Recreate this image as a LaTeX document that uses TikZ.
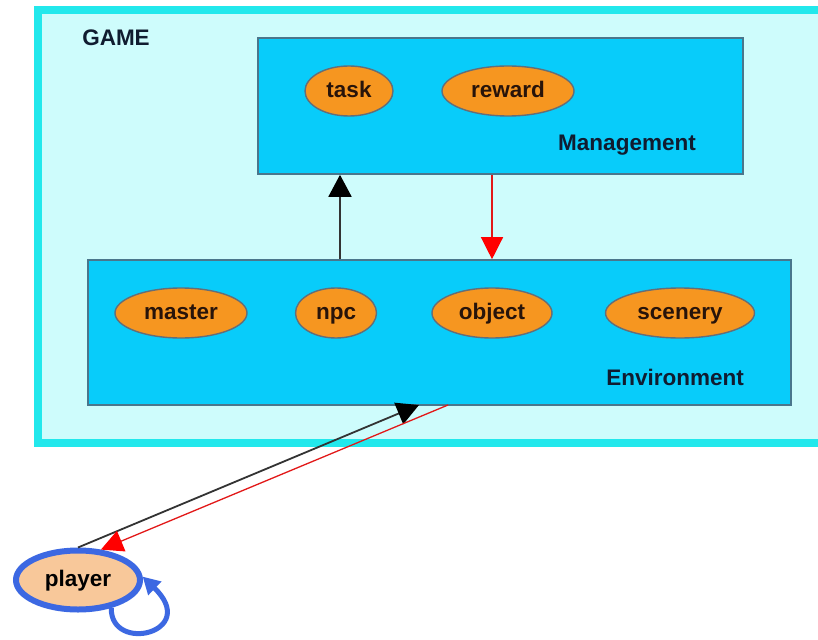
\documentclass[tikz,border=0pt]{standalone}
\usepackage{fontspec}
\setmainfont{Liberation Sans}
\usetikzlibrary{arrows.meta,shapes.geometric,calc}

\definecolor{gamefill}{RGB}{206,252,252}
\definecolor{gameedge}{RGB}{34,232,236}
\definecolor{boxfill}{RGB}{8,204,250}
\definecolor{boxedge}{RGB}{74,118,140}
\definecolor{itemfill}{RGB}{246,150,32}
\definecolor{itemedge}{RGB}{100,110,120}
\definecolor{playerfill}{RGB}{248,200,154}
\definecolor{playeredge}{RGB}{60,104,226}
\definecolor{labelink}{RGB}{16,28,48}
\definecolor{itemink}{RGB}{40,20,10}
\definecolor{flowred}{RGB}{226,24,24}

\tikzset{
  txt/.style={font=\fontsize{22.5}{22.5}\selectfont\bfseries, text=labelink},
  cluster/.style={rectangle, draw=boxedge, line width=1.6pt, fill=boxfill, inner sep=0pt},
  item/.style={ellipse, draw=itemedge, line width=1.4pt, fill=itemfill, inner sep=0pt,
               minimum height=50pt, txt, text=itemink,
               text height=16pt, text depth=3pt},
  upflow/.style={draw=black!80, line width=1.8pt,
                 -{Triangle[length=22pt,width=23pt,color=black,fill=black]}},
  downflow/.style={draw=flowred, line width=1.3pt,
                   -{Triangle[length=22pt,width=22pt,color=red,fill=red]}},
  selfloop/.style={draw=playeredge, line width=5pt,
                   -{Triangle[length=17pt,width=18pt]}},
}

\begin{document}
\begin{tikzpicture}[x=1pt,y=-1pt]
  \useasboundingbox (0,0) rectangle (818,639);
  \clip (0,0) rectangle (818,639);
  \fill[white] (0,0) rectangle (818,639);

  % outer GAME area, running off the right edge
  \draw[gameedge, fill=gamefill, line width=8pt] (38,10) rectangle (840,443);
  \node[txt, anchor=center] (game) at (116,38) {GAME};

  % Management cluster
  \node[cluster, minimum width=485pt, minimum height=136pt] (mgmt) at (500.5,106) {};
  \node[item, minimum width=88pt] (task) at (349,91) {task};
  \node[item, minimum width=132pt] (reward) at (508,91) {reward};
  \node[txt] (mgmtlabel) at (627,145) {Management};

  % Environment cluster
  \node[cluster, minimum width=703pt, minimum height=145pt] (env) at (439.5,332.5) {};
  \node[item, minimum width=132pt] (master) at (181,313) {master};
  \node[item, minimum width=81pt] (npc) at (336,313) {npc};
  \node[item, minimum width=120pt] (object) at (492,313) {object};
  \node[item, minimum width=149pt] (scenery) at (680,313) {scenery};
  \node[txt] (envlabel) at (675,377) {Environment};

  % player
  \node[ellipse, draw=playeredge, line width=6pt, fill=playerfill, inner sep=0pt,
        minimum width=124pt, minimum height=59pt, txt, text=black,
        text height=16pt, text depth=3pt] (player) at (78,580) {player};

  % attachment points on the cluster borders
  \coordinate (upx) at (340,0);
  \coordinate (downx) at (492,0);
  \coordinate (envin) at (419,405);
  \coordinate (envout) at (448,405);

  % flows between clusters
  \draw[upflow] (upx |- env.north) -- (upx |- mgmt.south);
  \draw[downflow] (downx |- mgmt.south) -- (downx |- env.north);

  % flows between player and environment
  \draw[upflow] (player.north) -- (envin);
  \draw[downflow] (envout) -- (player.53);

  % player self loop
  \draw[selfloop] (player.-40) .. controls +(-1,46) and +(58,56) .. (player.3);
\end{tikzpicture}
\end{document}
